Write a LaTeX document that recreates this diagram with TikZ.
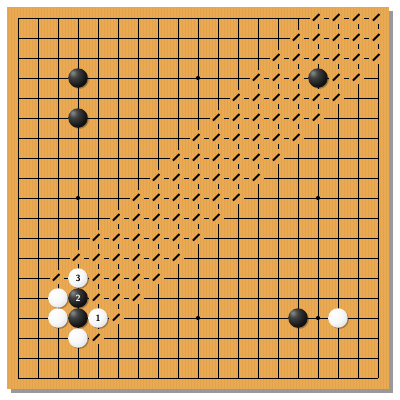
\documentclass[tikz,border=0pt]{standalone}
\usepackage{tikz}
\definecolor{wood}{RGB}{234,170,84}
\definecolor{woodgrain}{RGB}{214,150,66}
\def\startlist{{15,14,13,12,11,10,9,8,7,6,5,4,3,2,2,2,3,99,99}}
\def\endlist{{18,18,18,17,16,15,14,13,12,11,10,9,8,7,6,5,4,-1,-1}}
\newcommand\ismarked[2]{%
  \pgfmathtruncatemacro\tmps{\startlist[#2]}%
  \pgfmathtruncatemacro\tmpe{\endlist[#2]}%
  \def\mk{0}%
  \ifnum#1<\tmps\relax\else\ifnum#1>\tmpe\relax\else\def\mk{1}\fi\fi}
\pgfdeclareradialshading{wstoneshade}{\pgfqpoint{-12bp}{12bp}}{color(0bp)=(white); color(22bp)=(white!97!black); color(42bp)=(white!85!black); color(60bp)=(white!62!black); color(100bp)=(white!60!black)}
\pgfdeclareradialshading{bstoneshade}{\pgfqpoint{-14bp}{14bp}}{color(0bp)=(black!45); color(12bp)=(black!75); color(30bp)=(black!92); color(55bp)=(black); color(100bp)=(black)}
\begin{document}
\begin{tikzpicture}[x=1pt,y=-1pt,
  gridline/.style={line width=0.95pt,black,line cap=rect},
  slashline/.style={line width=1.9pt,black},
  stonebase/.style={circle,minimum size=19.5pt,inner sep=0pt,font=\sffamily\bfseries\fontsize{9}{9}\selectfont},
  bstone/.style={stonebase,shade,shading=bstoneshade,text=white},
  wstone/.style={stonebase,shade,shading=wstoneshade,text=black},
  stoneshadow/.style={fill=black,opacity=0.28},
  star/.style={fill=black}]
\useasboundingbox (0,0) rectangle (400,400);
\fill[white] (0,0) rectangle (400,400);
% shadow and board
\fill[black!40] (10.5,10.5) rectangle (392.5,392.5);
\fill[wood] (6.5,6.5) rectangle (388.5,388.5);
\foreach \gx in {8,11,...,386}{
  \draw[woodgrain,line width=0.6pt,opacity=0.35] (\gx,6.5) -- (\gx,388.5);
}
% horizontal grid segments
\foreach \row in {0,...,18}{
  \foreach \col in {0,...,17}{
    \pgfmathtruncatemacro\ncol{\col+1}%
    \ismarked{\col}{\row}\let\ma\mk
    \ismarked{\ncol}{\row}\let\mb\mk
    \pgfmathsetmacro\xa{18+20*\col}%
    \pgfmathsetmacro\yy{18+20*\row}%
    \ifnum\ma=0
      \ifnum\mb=0 \draw[gridline] (\xa,\yy) -- (\xa+20,\yy);
      \else \draw[gridline] (\xa,\yy) -- (\xa+12,\yy); \fi
    \else
      \ifnum\mb=0 \draw[gridline] (\xa+6.5,\yy) -- (\xa+20,\yy);
      \else \draw[gridline] (\xa+6.5,\yy) -- (\xa+10.5,\yy); \fi
    \fi
  }
}
% vertical grid segments
\foreach \col in {0,...,18}{
  \foreach \row in {0,...,17}{
    \pgfmathtruncatemacro\nrow{\row+1}%
    \ismarked{\col}{\row}\let\ma\mk
    \ismarked{\col}{\nrow}\let\mb\mk
    \pgfmathsetmacro\xx{18+20*\col}%
    \pgfmathsetmacro\ya{18+20*\row}%
    \ifnum\ma=0
      \ifnum\mb=0 \draw[gridline] (\xx,\ya) -- (\xx,\ya+20);
      \else \draw[gridline] (\xx,\ya) -- (\xx,\ya+12); \fi
    \else
      \ifnum\mb=0 \draw[gridline] (\xx,\ya+6.5) -- (\xx,\ya+20);
      \else \draw[gridline] (\xx,\ya+6.5) -- (\xx,\ya+10.5); \fi
    \fi
  }
}
% slash marks
\foreach \row in {0,...,18}{
  \foreach \col in {0,...,18}{
    \ismarked{\col}{\row}%
    \ifnum\mk=1
      \pgfmathsetmacro\xx{18+20*\col}%
      \pgfmathsetmacro\yy{18+20*\row}%
      \draw[slashline] (\xx-5,\yy+2.5) -- (\xx+1.5,\yy-4);
    \fi
  }
}
% star points
\foreach \sc/\sr in {3/3,9/3,15/3,3/9,15/9,3/15,9/15,15/15}{
  \fill[star] (18+20*\sc,18+20*\sr) circle (2.1);
}
% stone shadows
\foreach \sc/\sr in {3/3,3/5,15/3,14/15,16/15,3/13,3/14,2/14,2/15,3/15,4/15,3/16}{
  \fill[stoneshadow] (19.3+20*\sc,19.3+20*\sr) circle (9.6);
}
% black stones
\node[bstone] (b1) at (78,78) {};
\node[bstone] (b2) at (78,118) {};
\node[bstone] (b3) at (318,78) {};
\node[bstone] (b4) at (298,318) {};
\node[bstone] (b5) at (78,318) {};
\node[bstone] (b6) at (78,298) {2};
% white stones
\node[wstone] (w1) at (338,318) {};
\node[wstone] (w2) at (78,278) {3};
\node[wstone] (w3) at (58,298) {};
\node[wstone] (w4) at (58,318) {};
\node[wstone] (w5) at (98,318) {1};
\node[wstone] (w6) at (78,338) {};
\end{tikzpicture}
\end{document}
